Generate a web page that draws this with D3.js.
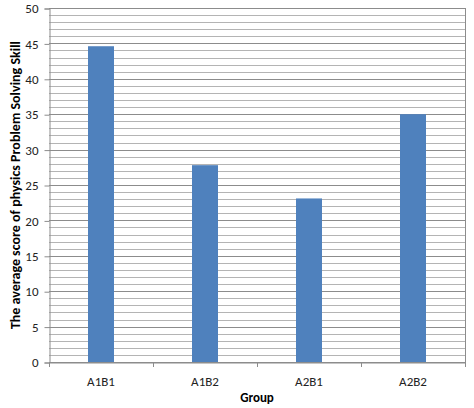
<!DOCTYPE html>
<html><head><meta charset="utf-8">
<script src="https://cdn.jsdelivr.net/npm/d3@7"></script>
<style>body{margin:0;background:#fff}text{font-family:Calibri,Carlito,"Liberation Sans",sans-serif}</style>
</head><body>
<svg id="chart" width="474" height="408"></svg>
<script>
var groups = ["A1B1", "A1B2", "A2B1", "A2B2"];
var scores = [44.6, 27.8, 23.1, 35.0];
var yTicks = [0, 5, 10, 15, 20, 25, 30, 35, 40, 45, 50];

var svg = d3.select("#chart");
var pLeft = 49, pRight = 465, pTop = 8, pBottom = 362;

var x = d3.scaleBand().domain(groups).range([pLeft, pRight]);
var y = d3.scaleLinear().domain([0, 50]).range([pBottom, pTop]);

// minor grid every 1, major every 5
svg.append("g").selectAll("line").data(d3.range(0, 51))
  .enter().append("line")
  .attr("x1", pLeft).attr("x2", pRight)
  .attr("y1", function(d){ return Math.round(y(d)) + 0.5; })
  .attr("y2", function(d){ return Math.round(y(d)) + 0.5; })
  .style("stroke", function(d){ return d % 5 == 0 ? "#8c8c8c" : "#b4b4b4"; })
  .style("stroke-width", 1);

svg.append("line").attr("x1", pRight + 0.5).attr("x2", pRight + 0.5)
  .attr("y1", pTop).attr("y2", pBottom).style("stroke", "#8c8c8c");

svg.append("g").selectAll("rect").data(groups)
  .enter().append("rect")
  .attr("x", function(d){ return x(d) + x.bandwidth()/2 - 13; })
  .attr("width", 26)
  .attr("y", function(d, i){ return y(scores[i]); })
  .attr("height", function(d, i){ return pBottom - y(scores[i]); })
  .style("fill", "#4f81bd");

var yAxis = svg.append("g").attr("transform", "translate(" + (pLeft + 0.5) + ",0.5)")
  .call(d3.axisLeft(y).tickValues(yTicks).tickSize(5).tickPadding(6));
var xAxis = svg.append("g").attr("transform", "translate(0," + (pBottom + 0.5) + ")")
  .call(d3.axisBottom(x).tickSize(0).tickPadding(14));
[yAxis, xAxis].forEach(function(a){
  a.select(".domain").style("stroke", "#8c8c8c");
  a.selectAll(".tick line").style("stroke", "#8c8c8c");
  a.selectAll("text").style("font-size", "13px").style("fill", "#222");
});
svg.append("g").selectAll("line").data(d3.range(0, 5)).enter().append("line")
  .attr("x1", function(d){ return pLeft + d * x.step() + 0.5; })
  .attr("x2", function(d){ return pLeft + d * x.step() + 0.5; })
  .attr("y1", pBottom).attr("y2", pBottom + 5).style("stroke", "#8c8c8c");

svg.append("text").attr("x", (pLeft + pRight)/2).attr("y", 402)
  .attr("text-anchor", "middle").style("font-size", "13px").style("font-weight", "bold")
  .text("Group");
svg.append("text").attr("transform", "translate(20," + ((pTop + pBottom)/2) + ") rotate(-90)")
  .attr("text-anchor", "middle").style("font-size", "14px").style("font-weight", "bold")
  .text("The average score of physics Problem Solving Skill");
</script>
</body></html>
